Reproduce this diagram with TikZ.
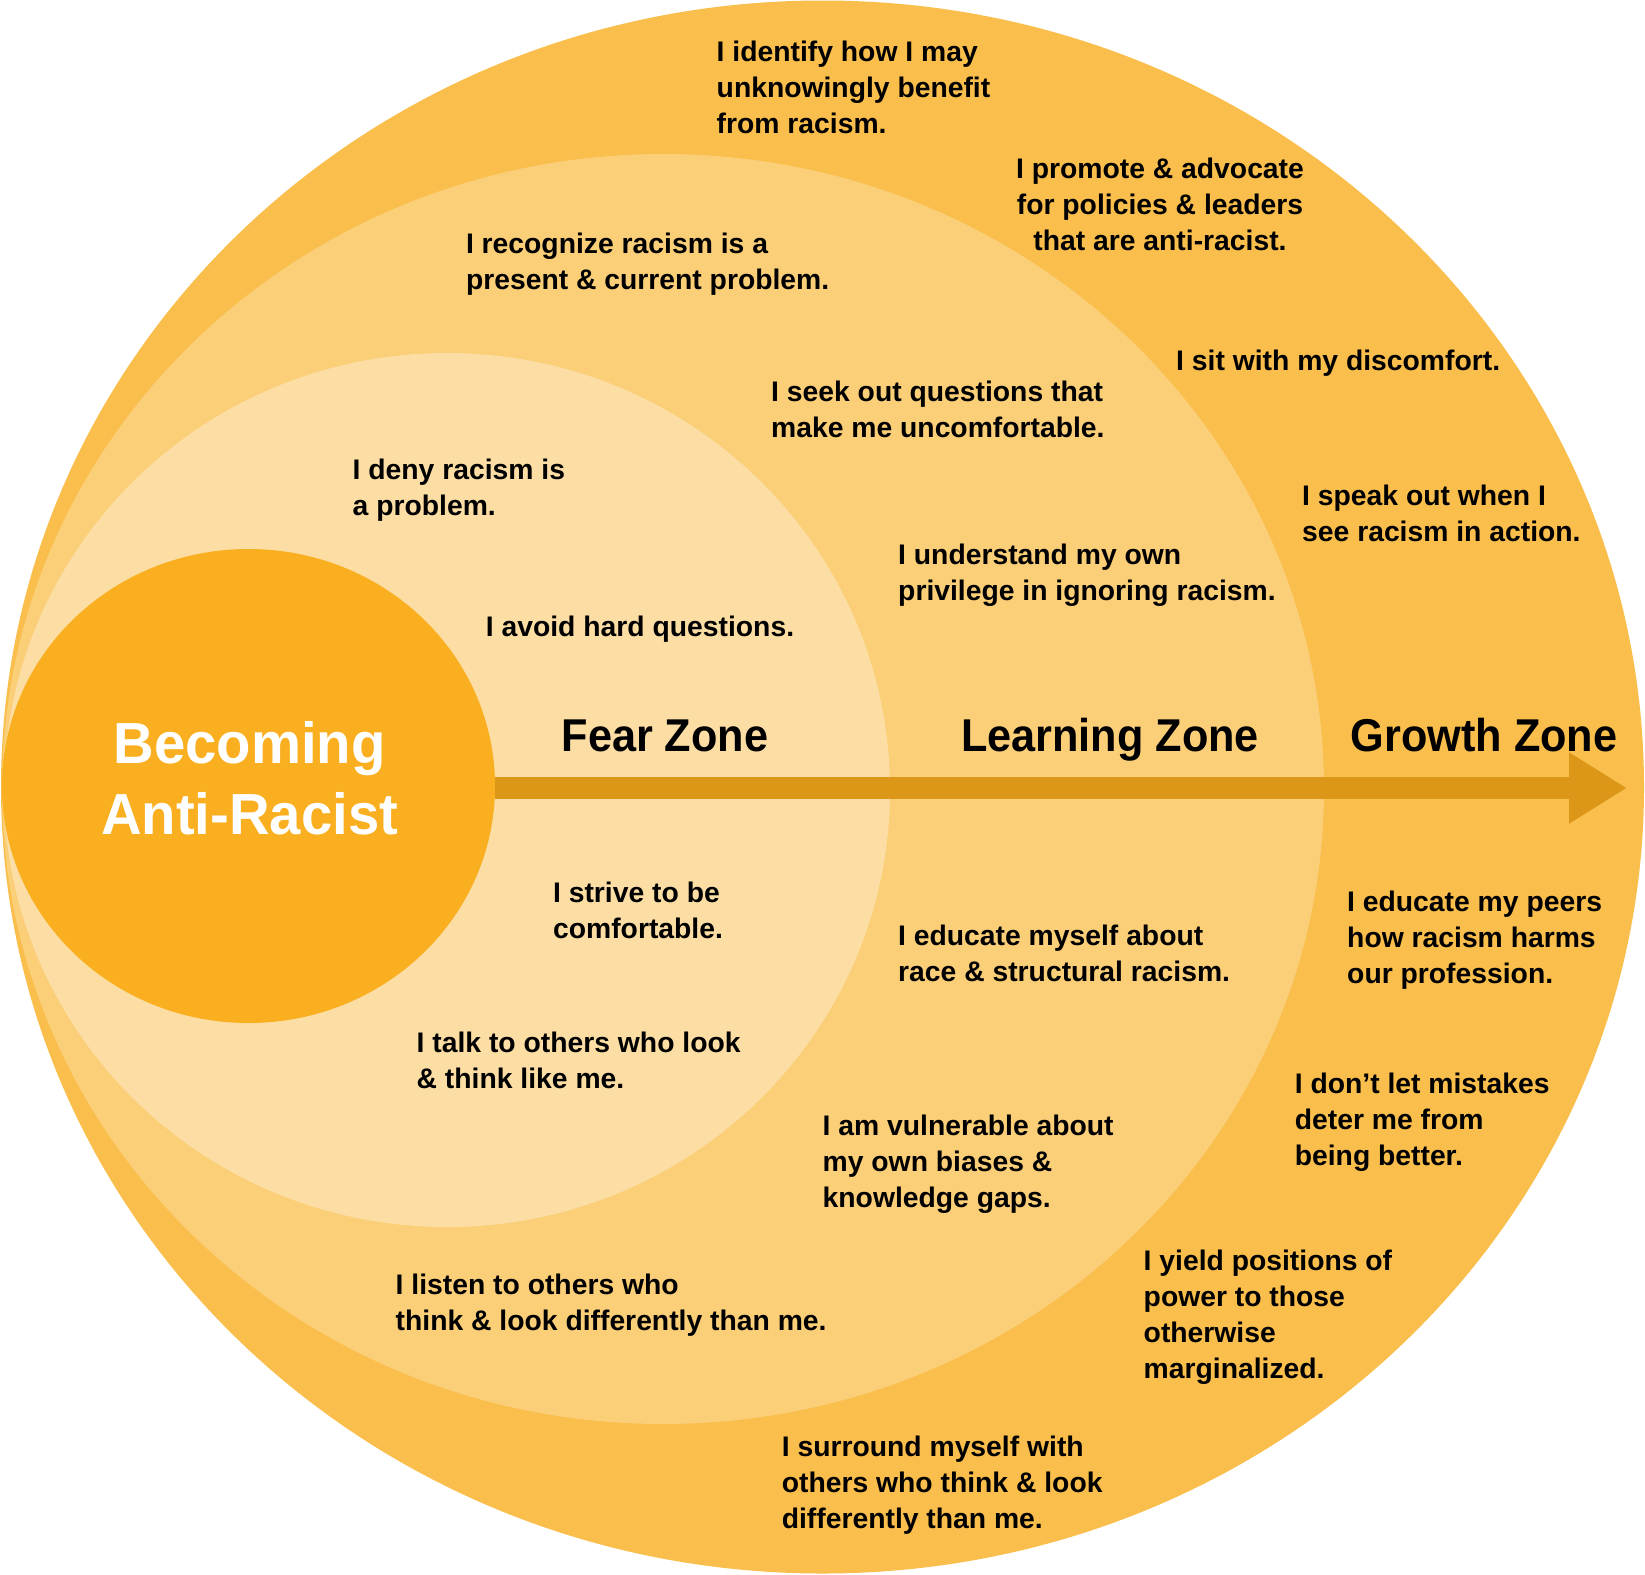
\documentclass[tikz,border=0pt]{standalone}
\usepackage{fontspec}
\setmainfont{Liberation Sans}
\newfontfamily\zonefont{Liberation Sans}[FakeStretch=0.94]
\newfontfamily\titlefont{Liberation Sans}[FakeStretch=0.97]
\usetikzlibrary{arrows.meta,shapes.geometric}
\definecolor{outerc}{HTML}{F9BE4B}
\definecolor{middlec}{HTML}{FBCE78}
\definecolor{innerc}{HTML}{FCDEA4}
\definecolor{corec}{HTML}{F9AF1F}
\definecolor{arrowc}{HTML}{DC9719}
\tikzset{
  txt/.style={font=\fontsize{28.3}{36}\selectfont\bfseries, align=left, anchor=north west, inner sep=0pt, text=black},
  ctxt/.style={txt, align=center, anchor=north},
  zone/.style={font=\zonefont\fontsize{46}{50}\selectfont\bfseries, anchor=base, inner sep=0pt, text=black},
  titletxt/.style={font=\titlefont\fontsize{58}{71}\selectfont\bfseries, align=center, anchor=north, inner sep=0pt, text=white},
  mainarrow/.style={draw=arrowc, line width=22pt, -{Triangle[length=58pt,width=67pt]}}
}
\begin{document}
\begin{tikzpicture}[x=1pt,y=-1pt]
\useasboundingbox (0,0) rectangle (1645,1574);
% zones
\fill[outerc] (822.5,787) ellipse [x radius=821.5pt, y radius=786.5pt];
\fill[middlec] (663,789) ellipse [x radius=661pt, y radius=635pt];
\fill[innerc] (447,790) ellipse [x radius=443pt, y radius=437pt];
\node[ellipse, fill=corec, minimum width=493pt, minimum height=474pt, inner sep=0pt] (core) at (248.5,786) {};
\coordinate (tip) at (1627,788);
\draw[mainarrow] (core.east |- tip) -- (tip);
% title
\node[titletxt] (title) at (249.7,721) {Becoming\\Anti-Racist};
% zone labels
\node[zone] (fear) at (665,751) {Fear Zone};
\node[zone] (learn) at (1110,751) {Learning Zone};
\node[zone] (growth) at (1484,751) {Growth Zone};
% statements
\node[txt] (t1) at (716.5,40.4) {I identify how I may\\unknowingly benefit\\from racism.};
\node[ctxt] (t2) at (1160,157.9) {I promote \& advocate\\for policies \& leaders\\that are anti-racist.};
\node[txt] (t3) at (465.8,232.3) {I recognize racism is a\\present \& current problem.};
\node[txt] (t4) at (1176,349.8) {I sit with my discomfort.};
\node[txt] (t5) at (771,380.3) {I seek out questions that\\make me uncomfortable.};
\node[txt] (t6) at (352.5,459) {I deny racism is\\a problem.};
\node[txt] (t7) at (1302,485) {I speak out when I\\see racism in action.};
\node[txt] (t8) at (898,544) {I understand my own\\privilege in ignoring racism.};
\node[txt] (t9) at (485.7,615.3) {I avoid hard questions.};
\node[txt] (t12) at (552.9,881.7) {I strive to be\\comfortable.};
\node[txt] (t13) at (1347,891) {I educate my peers\\how racism harms\\our profession.};
\node[txt] (t14) at (898,924.7) {I educate myself about\\race \& structural racism.};
\node[txt] (t15) at (416.5,1031.7) {I talk to others who look\\\& think like me.};
\node[txt] (t16) at (1294.6,1072.7) {I don’t let mistakes\\deter me from\\being better.};
\node[txt] (t17) at (822.5,1114.6) {I am vulnerable about\\my own biases \&\\knowledge gaps.};
\node[txt] (t18) at (1143.5,1250) {I yield positions of\\power to those\\otherwise\\marginalized.};
\node[txt] (t19) at (395.5,1274) {I listen to others who\\think \& look differently than me.};
\node[txt] (t20) at (781.6,1435.7) {I surround myself with\\others who think \& look\\differently than me.};
\end{tikzpicture}
\end{document}
